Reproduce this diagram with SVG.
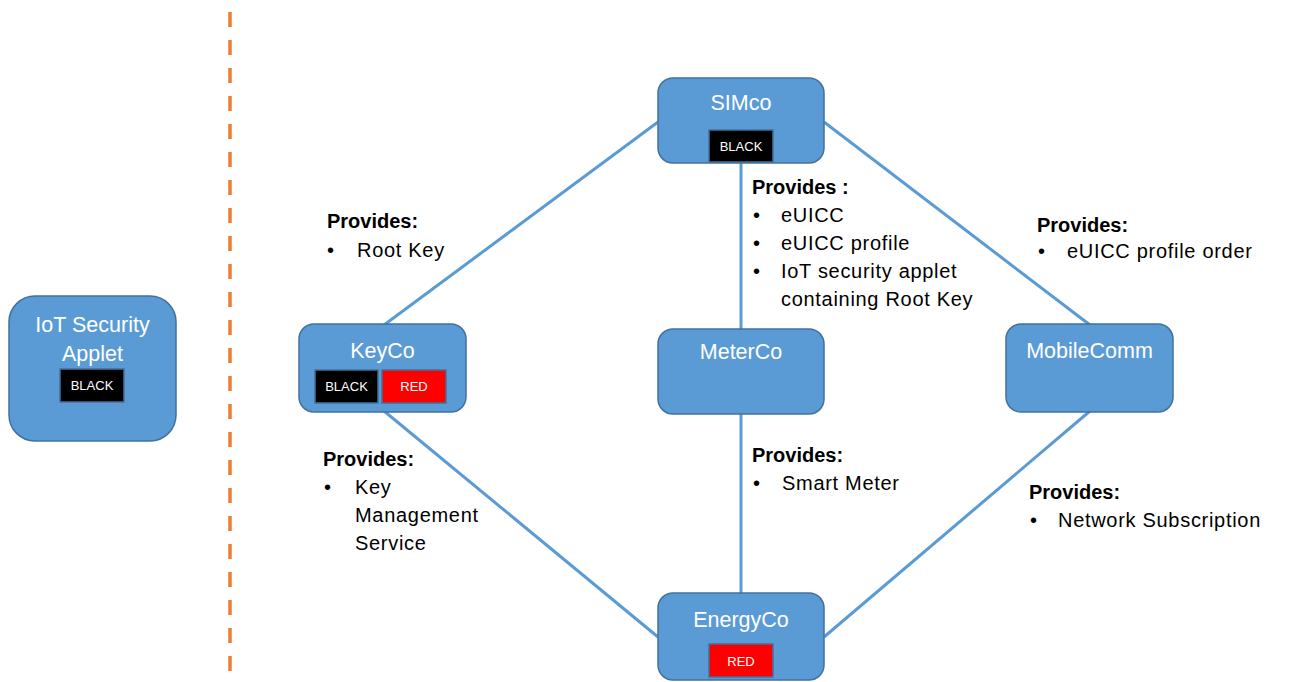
<svg xmlns="http://www.w3.org/2000/svg" width="1289" height="682" viewBox="0 0 1289 682">
  <style>
    .node { fill: #5B9BD5; stroke: #41719C; stroke-width: 1.5; }
    .title { font-family: "Liberation Sans", Arial, sans-serif; font-size: 21.5px; fill: #ffffff; text-anchor: middle; }
    .tag-black { fill: #000000; stroke: #41719C; stroke-width: 1.5; }
    .tag-red { fill: #FF0000; stroke: #41719C; stroke-width: 1.5; }
    .tag { font-family: "Liberation Sans", Arial, sans-serif; font-size: 13px; fill: #ffffff; text-anchor: middle; }
    .link { stroke: #5B9BD5; stroke-width: 3; fill: none; }
    .divider { stroke: #ED7D31; stroke-width: 3.5; stroke-dasharray: 15 13; fill: none; }
    .lbl { font-family: "Liberation Sans", Arial, sans-serif; font-size: 20px; fill: #000000; letter-spacing: 0.7px; }
    .head { font-weight: bold; letter-spacing: 0; }
  </style>

  <!-- vertical divider -->
  <line class="divider" x1="230" y1="12" x2="230" y2="682"/>

  <!-- connectors -->
  <g id="connectors">
    <line class="link" x1="658" y1="122" x2="384" y2="325"/>
    <line class="link" x1="824" y1="122" x2="1090" y2="325"/>
    <line class="link" x1="741" y1="163" x2="741" y2="329"/>
    <line class="link" x1="384" y1="411" x2="658" y2="637"/>
    <line class="link" x1="741" y1="414" x2="741" y2="593"/>
    <line class="link" x1="1090" y1="411" x2="824" y2="637"/>
  </g>

  <!-- standalone applet -->
  <g id="iot-applet">
    <rect class="node" x="9" y="296" width="167" height="145" rx="26"/>
    <text class="title" x="92.5" y="332">IoT Security</text>
    <text class="title" x="92.5" y="361">Applet</text>
    <rect class="tag-black" x="60" y="369" width="64" height="33"/>
    <text class="tag" x="92" y="390">BLACK</text>
  </g>

  <g id="simco">
    <rect class="node" x="658" y="78" width="166" height="85" rx="15"/>
    <text class="title" x="741" y="110">SIMco</text>
    <rect class="tag-black" x="709" y="130" width="64" height="32"/>
    <text class="tag" x="741" y="151">BLACK</text>
  </g>

  <g id="keyco">
    <rect class="node" x="299" y="324" width="167" height="88" rx="15"/>
    <text class="title" x="382.5" y="358">KeyCo</text>
    <rect class="tag-black" x="315" y="370" width="63" height="33"/>
    <text class="tag" x="346.5" y="391">BLACK</text>
    <rect class="tag-red" x="382" y="370" width="64" height="33"/>
    <text class="tag" x="414" y="391">RED</text>
  </g>

  <g id="meterco">
    <rect class="node" x="658" y="329" width="166" height="85" rx="15"/>
    <text class="title" x="741" y="359">MeterCo</text>
  </g>

  <g id="mobilecomm">
    <rect class="node" x="1006" y="324" width="167" height="88" rx="15"/>
    <text class="title" x="1089.5" y="358">MobileComm</text>
  </g>

  <g id="energyco">
    <rect class="node" x="658" y="593" width="166" height="87" rx="15"/>
    <text class="title" x="741" y="627">EnergyCo</text>
    <rect class="tag-red" x="709" y="644" width="64" height="33"/>
    <text class="tag" x="741" y="666">RED</text>
  </g>

  <!-- edge descriptions -->
  <g id="label-keyco-simco" class="lbl">
    <text class="head" x="327" y="228">Provides:</text>
    <text x="327" y="257">•</text>
    <text x="357" y="257">Root Key</text>
  </g>

  <g id="label-simco-meterco" class="lbl">
    <text class="head" x="752" y="194">Provides :</text>
    <text x="753" y="222">•</text>
    <text x="781" y="222">eUICC</text>
    <text x="753" y="250">•</text>
    <text x="781" y="250">eUICC profile</text>
    <text x="753" y="278">•</text>
    <text x="781" y="278">IoT security applet</text>
    <text x="781" y="306">containing Root Key</text>
  </g>

  <g id="label-simco-mobilecomm" class="lbl">
    <text class="head" x="1037" y="232">Provides:</text>
    <text x="1038" y="258">•</text>
    <text x="1067" y="258">eUICC profile order</text>
  </g>

  <g id="label-keyco-energyco" class="lbl">
    <text class="head" x="323" y="466">Provides:</text>
    <text x="324" y="494">•</text>
    <text x="355" y="494">Key</text>
    <text x="355" y="522">Management</text>
    <text x="355" y="550">Service</text>
  </g>

  <g id="label-meterco-energyco" class="lbl">
    <text class="head" x="752" y="462">Provides:</text>
    <text x="753" y="490">•</text>
    <text x="782" y="490">Smart Meter</text>
  </g>

  <g id="label-mobilecomm-energyco" class="lbl">
    <text class="head" x="1029" y="499">Provides:</text>
    <text x="1030" y="527">•</text>
    <text x="1058" y="527">Network Subscription</text>
  </g>
</svg>
